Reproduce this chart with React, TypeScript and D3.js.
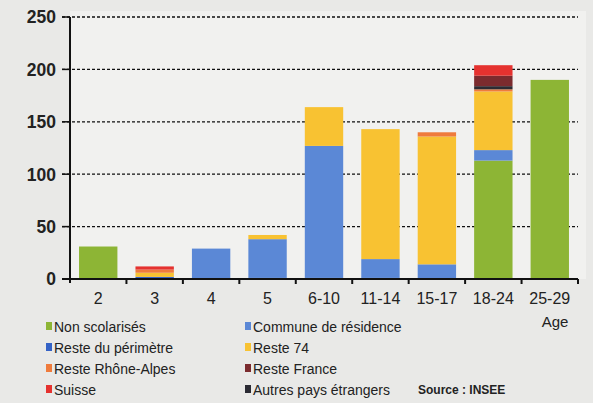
import React from 'react';
import * as d3 from 'd3';

// Age groups on the x axis
const ages = ['2', '3', '4', '5', '6-10', '11-14', '15-17', '18-24', '25-29'];

// One array per series, one value per age group
const nonScolarises = [31, 0, 0, 1, 1, 1, 0, 113, 190];
const communeResidence = [0, 0, 29, 37, 126, 18, 14, 10, 0];
const restePerimetre = [0, 2, 0, 0, 0, 0, 0, 0, 0];
const reste74 = [0, 4, 0, 4, 37, 124, 122, 56, 0];
const resteRhoneAlpes = [0, 3, 0, 0, 0, 0, 4, 2, 0];
const autresPays = [0, 0, 0, 0, 0, 0, 0, 3, 0];
const resteFrance = [0, 0, 0, 0, 0, 0, 0, 10, 0];
const suisse = [0, 3, 0, 0, 0, 0, 0, 10, 0];

const yTicks = [0, 50, 100, 150, 200, 250];

// Legend entries, in the order they are written (two columns)
const legendLeft = ['Non scolarisés', 'Reste du périmètre', 'Reste Rhône-Alpes', 'Suisse'];
const legendRight = ['Commune de résidence', 'Reste 74', 'Reste France', 'Autres pays étrangers'];

const colors: Record<string, string> = {
  'Non scolarisés': '#8db535',
  'Commune de résidence': '#5b88d6',
  'Reste du périmètre': '#3462c6',
  'Reste 74': '#f8c232',
  'Reste Rhône-Alpes': '#ef7b3c',
  'Reste France': '#7b2b2e',
  'Suisse': '#e5322f',
  'Autres pays étrangers': '#2b2b33',
};

// stacking order, bottom to top
const seriesKeys = [
  'Non scolarisés',
  'Commune de résidence',
  'Reste du périmètre',
  'Reste 74',
  'Reste Rhône-Alpes',
  'Autres pays étrangers',
  'Reste France',
  'Suisse',
];
const seriesValues: Record<string, number[]> = {
  'Non scolarisés': nonScolarises,
  'Commune de résidence': communeResidence,
  'Reste du périmètre': restePerimetre,
  'Reste 74': reste74,
  'Reste Rhône-Alpes': resteRhoneAlpes,
  'Autres pays étrangers': autresPays,
  'Reste France': resteFrance,
  'Suisse': suisse,
};

const W = 593;
const H = 403;
const left = 70;
const right = 578;
const top = 17;
const bottom = 279;
const font = 'Liberation Sans, Arial, sans-serif';

export default function App() {
  const x = d3.scaleBand<string>().domain(ages).range([left, right]).paddingInner(0.32).paddingOuter(0.16);
  const y = d3.scaleLinear().domain([0, 250]).range([bottom, top]);

  // table for d3.stack
  const table = ages.map((age, i) => {
    const row: Record<string, any> = { age };
    seriesKeys.forEach(k => { row[k] = seriesValues[k][i]; });
    return row;
  });
  const stacked = d3.stack<Record<string, any>>().keys(seriesKeys)(table);

  const step = x.step();

  return (
    <svg width={W} height={H} style={{ position: 'absolute', left: 0, top: 0 }} fontFamily={font}>
      <rect x={0} y={0} width={W} height={H} fill="#e9e9e7" />
      <rect x={left} y={top - 6} width={right - left + 8} height={bottom - top + 6} fill="#f1f1ef" />

      {/* dotted gridlines */}
      {yTicks.filter(t => t > 0).map(t => (
        <line key={t} x1={left - 8} x2={right} y1={y(t)} y2={y(t)}
          stroke="#111" strokeWidth={1.3} strokeDasharray="3,2" />
      ))}

      {/* bars */}
      {stacked.map(layer => (
        <g key={layer.key} fill={colors[layer.key]}>
          {layer.map((d, i) => (
            d[1] - d[0] > 0 ? (
              <rect key={i} x={x(ages[i])} y={y(d[1])} width={x.bandwidth()}
                height={y(d[0]) - y(d[1])} />
            ) : null
          ))}
        </g>
      ))}

      {/* axes */}
      <line x1={left} x2={left} y1={top} y2={bottom + 4} stroke="#111" strokeWidth={2} />
      <line x1={left - 8} x2={right} y1={bottom} y2={bottom} stroke="#111" strokeWidth={2} />
      {yTicks.map(t => (
        <g key={t}>
          <line x1={left - 8} x2={left} y1={y(t)} y2={y(t)} stroke="#111" strokeWidth={1.5} />
          <text x={56} y={y(t)} dy="0.36em" textAnchor="end" fontSize={17.5}
            fontWeight="bold" fill="#222">{t}</text>
        </g>
      ))}
      {ages.map((a, i) => (
        <g key={a}>
          <line x1={left + step * (i + 1)} x2={left + step * (i + 1)} y1={bottom} y2={bottom + 5}
            stroke="#111" strokeWidth={2} />
          <text x={(x(a) ?? 0) + x.bandwidth() / 2} y={304} textAnchor="middle" fontSize={16}
            fill="#222">{a}</text>
        </g>
      ))}
      <text x={555} y={327} textAnchor="middle" fontSize={15} fill="#222">Age</text>

      {/* legend */}
      {legendLeft.map((k, i) => (
        <g key={k} transform={`translate(46,${327 + i * 21})`}>
          <rect x={0} y={-5} width={6} height={8} fill={colors[k]} />
          <text x={8} y={0} dy="0.35em" fontSize={14} fill="#222">{k}</text>
        </g>
      ))}
      {legendRight.map((k, i) => (
        <g key={k} transform={`translate(245,${327 + i * 21})`}>
          <rect x={0} y={-5} width={6} height={8} fill={colors[k]} />
          <text x={8} y={0} dy="0.35em" fontSize={14} fill="#222">{k}</text>
        </g>
      ))}
      <text x={418} y={390} dy="0.35em" fontSize={12} fontWeight="bold" fill="#222">Source : INSEE</text>
    </svg>
  );
}
